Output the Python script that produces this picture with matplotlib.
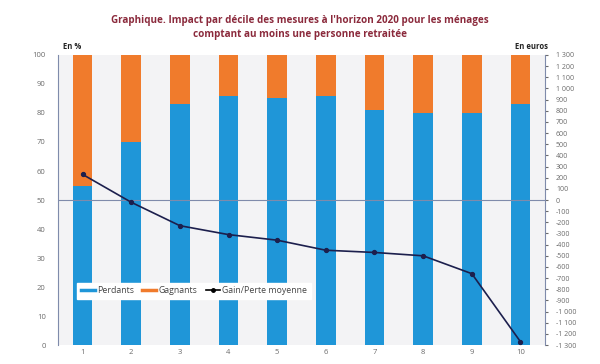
import matplotlib

matplotlib.use("Agg")
import matplotlib.pyplot as plt
from matplotlib.lines import Line2D

plt.rcParams["font.family"] = ["Open Sans", "DejaVu Sans"]

deciles = [1, 2, 3, 4, 5, 6, 7, 8, 9, 10]
perdants = [55, 70, 83, 86, 85, 86, 81, 80, 80, 83]
gagnants = [100 - p for p in perdants]
gain_perte = [230, -20, -230, -310, -360, -450, -470, -500, -660, -1270]

BLUE = "#1f96d8"
ORANGE = "#f07b2c"
NAVY = "#1c1f4d"
AXIS = "#7f8bab"
TICK = "#6b6b6b"

fig = plt.figure(figsize=(6, 3.64), dpi=100)
ax = fig.add_axes([0.097, 0.052, 0.811, 0.797])
ax.set_facecolor("#f3f3f5")

ax.bar(deciles, perdants, width=0.4, color=BLUE, zorder=2)
ax.bar(deciles, gagnants, width=0.4, bottom=perdants, color=ORANGE, zorder=2)
ax.axhline(50, color=AXIS, lw=0.8, zorder=3)

ax.set_xlim(0.5, 10.5)
ax.set_ylim(0, 100)
ax.set_yticks(range(0, 101, 10))
ax.set_xticks(deciles)
ax.tick_params(axis="both", length=0, labelsize=5.5, colors=TICK, pad=3)
ax.tick_params(axis="y", pad=9)
for side in ("top", "right", "bottom"):
    ax.spines[side].set_visible(False)
ax.spines["left"].set_color(AXIS)

ax2 = ax.twinx()
ax2.plot(deciles, gain_perte, color=NAVY, lw=1.2, marker="o", ms=2.8, zorder=4)
ax2.set_ylim(-1300, 1300)
ax2.set_yticks(range(-1300, 1301, 100))
ax2.set_yticklabels([f"{v:,}".replace(",", " ") for v in range(-1300, 1301, 100)])
ax2.tick_params(axis="y", length=2, labelsize=5, colors=TICK, pad=6)
for side in ("top", "left", "bottom"):
    ax2.spines[side].set_visible(False)
ax2.spines["right"].set_color(AXIS)

handles = [
    Line2D([0], [0], color=BLUE, lw=2.5),
    Line2D([0], [0], color=ORANGE, lw=2.5),
    Line2D([0], [0], color="black", lw=1.2, marker="o", ms=2.5),
]
leg = ax2.legend(
    handles,
    ["Perdants", "Gagnants", "Gain/Perte moyenne"],
    loc="lower left",
    bbox_to_anchor=(0.03, 0.145),
    ncol=3,
    frameon=True,
    fontsize=6.3,
    handlelength=1.6,
    handletextpad=0.3,
    columnspacing=0.9,
    borderpad=0.4,
    fancybox=False,
)
leg.get_frame().set_facecolor("white")
leg.get_frame().set_edgecolor("white")
leg.get_frame().set_alpha(1)
for t in leg.get_texts():
    t.set_color("#444444")

fig.text(0.105, 0.866, "En %", fontsize=5.5, fontweight="bold", color="#222222")
fig.text(0.858, 0.866, "En euros", fontsize=5.5, fontweight="bold", color="#222222")
fig.text(
    0.5,
    0.925,
    "Graphique. Impact par décile des mesures à l'horizon 2020 pour les ménages\n"
    "comptant au moins une personne retraitée",
    ha="center",
    va="center",
    fontsize=7.1,
    fontweight="bold",
    color="#8b2a3c",
    linespacing=1.3,
)

fig.savefig("out.png", dpi=100, facecolor="white")
